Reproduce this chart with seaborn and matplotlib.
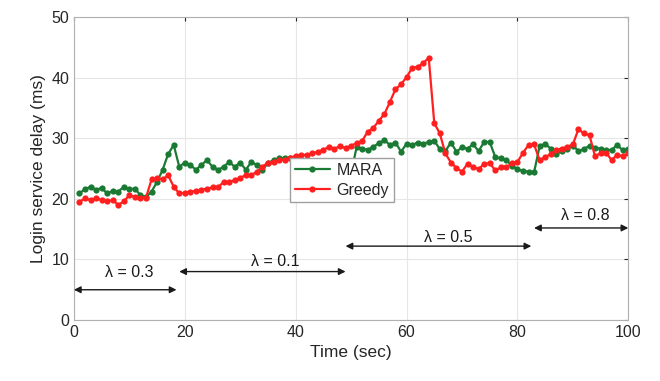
import numpy as np
import pandas as pd
import seaborn as sns
import matplotlib.pyplot as plt

# time axis (sec)
time = list(range(1, 101))

# MARA delay (ms), values under the legend are hidden anyway
mara = [20.9, 21.6, 22.0, 21.5, 21.8, 20.9, 21.3, 21.2, 22.0, 21.6,
        21.7, 20.6, 20.3, 21.2, 22.8, 24.8, 27.4, 28.9, 25.3, 26.0,
        25.6, 24.8, 25.6, 26.4, 25.3, 24.8, 25.3, 26.1, 25.3, 26.0,
        24.8, 26.1, 25.6, 24.8, 25.9, 26.4, 26.7, 26.8, 26.7, 24.5,
        24.3, 24.5, 24.2, 24.4, 24.3, 24.5, 24.2, 24.4, 24.3, 24.2,
        28.6, 28.3, 28.1, 28.6, 29.2, 29.7, 28.9, 29.3, 27.8, 29.1,
        28.9, 29.3, 29.1, 29.4, 29.6, 28.2, 27.9, 29.3, 27.8, 28.5,
        28.3, 29.0, 27.9, 29.4, 29.4, 26.9, 26.7, 26.4, 25.5, 24.9,
        24.6, 24.5, 24.4, 28.7, 29.1, 28.3, 27.4, 27.9, 28.3, 28.8,
        27.9, 28.2, 28.8, 28.4, 28.3, 28.0, 28.1, 28.9, 28.0, 28.2]

# Greedy delay (ms)
greedy = [19.5, 20.1, 19.8, 20.1, 19.8, 19.6, 19.8, 19.0, 19.6, 20.6,
          20.3, 20.2, 20.2, 23.2, 23.4, 23.2, 23.9, 22.0, 20.9, 21.0,
          21.2, 21.3, 21.5, 21.7, 21.9, 21.9, 22.8, 22.8, 23.1, 23.5,
          23.9, 23.9, 24.5, 25.3, 26.0, 26.1, 26.4, 26.5, 26.8, 27.1,
          27.2, 27.3, 27.5, 27.8, 28.1, 28.6, 28.3, 28.7, 28.4, 28.8,
          29.2, 29.6, 31.1, 31.7, 32.9, 34.0, 36.0, 38.1, 38.9, 40.1,
          41.6, 41.8, 42.4, 43.3, 32.5, 30.8, 27.5, 26.0, 25.1, 24.5,
          25.8, 25.3, 24.9, 25.8, 25.9, 24.7, 25.2, 25.2, 25.9, 26.1,
          27.6, 28.9, 29.0, 26.4, 26.9, 27.4, 28.1, 28.3, 28.6, 29.0,
          31.5, 30.8, 30.5, 27.0, 27.6, 27.6, 26.4, 27.3, 27.0, 27.5]

# load phases: arrow span, arrow height, label and label position
phase_start = [0, 19, 49, 83]
phase_end = [18.5, 49, 82.5, 100]
phase_y = [5, 8, 12.2, 15.2]
phase_label = ['\u03bb = 0.3', '\u03bb = 0.1', '\u03bb = 0.5', '\u03bb = 0.8']
label_x = [10, 36.3, 67.5, 92.2]
label_y = [7.9, 9.7, 13.7, 17.2]

df = pd.DataFrame({
    'Time': time * 2,
    'Delay': mara + greedy,
    'Method': ['MARA'] * len(mara) + ['Greedy'] * len(greedy),
})

sns.set_style('white')
plt.rcParams['font.family'] = ['Liberation Sans', 'DejaVu Sans']

fig = plt.figure(figsize=(6.6, 3.81), dpi=100)
ax = fig.add_axes([0.112, 0.160, 0.840, 0.795])

sns.lineplot(data=df, x='Time', y='Delay', hue='Method',
             palette={'MARA': '#1a7a33', 'Greedy': '#ff1f1f'},
             marker='o', markersize=4.5, markeredgewidth=0,
             linewidth=1.6, ax=ax)

ax.set_xlim(0, 100)
ax.set_ylim(0, 50)
ax.set_xticks([0, 20, 40, 60, 80, 100])
ax.set_yticks([0, 10, 20, 30, 40, 50])
ax.grid(True, color='#e6e6e6', linewidth=0.8)
ax.tick_params(direction='in', length=3, labelsize=11.5, colors='#262626',
               top=True, right=True, labeltop=False, labelright=False)
for sp in ax.spines.values():
    sp.set_color('#b0b0b0')
    sp.set_linewidth(0.8)
ax.set_xlabel('Time (sec)', fontsize=12.5, color='#262626')
ax.set_ylabel('Login service delay (ms)', fontsize=12.5, color='#262626')

for s, e, y, lab, tx, ty in zip(phase_start, phase_end, phase_y,
                                 phase_label, label_x, label_y):
    ax.annotate('', xy=(s, y), xytext=(e, y),
                arrowprops=dict(arrowstyle='<|-|>', color='#1a1a1a',
                                lw=1.0, mutation_scale=10,
                                shrinkA=0, shrinkB=0))
    ax.text(tx, ty, lab, ha='center', va='center', fontsize=11.5,
            color='#1a1a1a')

leg = ax.legend(loc='upper left', bbox_to_anchor=(0.39, 0.535),
                borderaxespad=0, fontsize=11.5, frameon=True,
                fancybox=False, framealpha=1, edgecolor='#a0a0a0',
                handlelength=2.2, borderpad=0.3, labelspacing=0.3,
                handletextpad=0.4)
leg.set_title(None)

fig.savefig('out.png', dpi=100)
